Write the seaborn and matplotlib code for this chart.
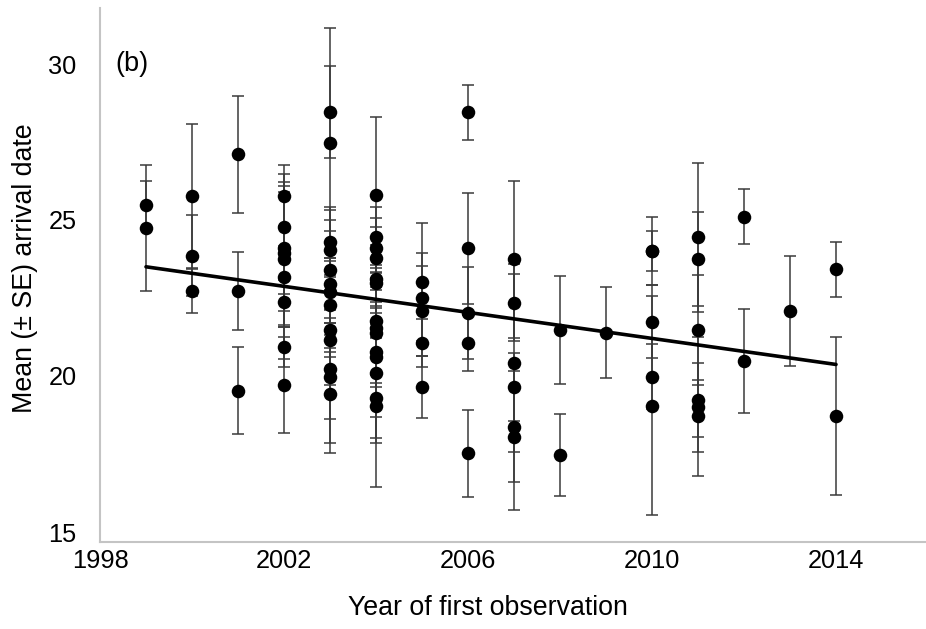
import numpy as np
import pandas as pd
import matplotlib
matplotlib.use("Agg")
import matplotlib.pyplot as plt
import seaborn as sns

# ---- data ----
obs_year = ([1999] * 2 + [2000] * 3 + [2001] * 3 + [2002] * 9 + [2003] * 13 +
            [2004] * 14 + [2005] * 5 + [2006] * 5 + [2007] * 6 + [2008] * 2 +
            [2009] * 1 + [2010] * 5 + [2011] * 6 + [2012] * 2 + [2013] * 1 +
            [2014] * 2)

mean_arrival = [
    25.48, 24.75,
    25.77, 23.86, 22.73,
    27.10, 22.73, 19.53,
    25.78, 24.77, 24.09, 23.93, 23.74, 23.17, 22.36, 20.92, 19.71,
    28.47, 27.46, 24.30, 24.04, 23.40, 22.95, 22.70, 22.28, 21.47, 21.15, 20.24, 19.98, 19.42,
    25.80, 24.45, 24.09, 23.77, 23.10, 22.97, 21.75, 21.55, 21.37, 20.78, 20.62, 20.09, 19.29, 19.05,
    23.00, 22.49, 22.09, 21.05, 19.64,
    28.45, 24.09, 22.01, 21.07, 17.52,
    23.74, 22.35, 20.41, 19.64, 18.38, 18.04,
    21.47, 17.47,
    21.39,
    24.01, 24.01, 21.74, 19.98, 19.05,
    24.45, 23.75, 21.47, 19.23, 19.02, 18.72,
    25.10, 20.49,
    22.08,
    23.42, 18.73,
]

se_arrival = [
    0.77, 2.02,
    2.31, 1.30, 0.70,
    1.87, 1.25, 1.40,
    0.98, 1.70, 2.01, 2.28, 2.17, 0.54, 1.82, 0.64, 1.53,
    1.48, 3.69, 1.13, 1.28, 1.26, 2.06, 1.00, 1.50, 1.76, 0.54, 1.62, 2.12, 1.90,
    2.49, 0.98, 0.96, 1.00, 1.09, 0.60, 0.50, 1.78, 1.73, 2.08, 0.60, 2.09, 1.45, 2.62,
    1.89, 1.46, 1.44, 0.77, 1.00,
    0.89, 1.77, 1.47, 0.90, 1.40,
    2.52, 1.24, 2.86, 1.09, 1.77, 2.33,
    1.73, 1.32,
    1.47,
    1.09, 0.64, 1.17, 1.04, 3.51,
    2.39, 1.52, 1.77, 1.20, 2.23, 1.15,
    0.88, 1.67,
    1.77,
    0.88, 2.53,
]

trend_years = [1999, 2014]
trend_values = [23.50, 20.37]

x_ticks = [1998, 2002, 2006, 2010, 2014]
y_ticks = [15, 20, 25, 30]
panel_label = "(b)"
x_title = "Year of first observation"
y_title = "Mean (± SE) arrival date"

df = pd.DataFrame({"year": obs_year, "mean": mean_arrival, "se": se_arrival})
trend = pd.DataFrame({"year": trend_years, "value": trend_values})

# ---- plot ----
sns.set_theme(style="white")
plt.rcParams["font.family"] = ["Liberation Sans", "DejaVu Sans"]

fig = plt.figure(figsize=(9.26, 6.29), dpi=100)
ax = fig.add_axes([100 / 926, 87 / 629, 826 / 926, 534 / 629])

ax.errorbar(df["year"], df["mean"], yerr=df["se"], fmt="none",
            ecolor="#3a3a3a", elinewidth=1.1, capsize=4.6, capthick=1.1,
            zorder=2)
sns.scatterplot(data=df, x="year", y="mean", ax=ax, color="black", s=95,
                edgecolor="black", linewidth=0, zorder=3, legend=False)
sns.lineplot(data=trend, x="year", y="value", ax=ax, color="black",
             linewidth=2.6, zorder=4)

ax.set_xlim(1998, 1998 + 826 / 46)
ax.set_ylim(15 - 10 / 31.2, 15 + 524 / 31.2)
ax.set_xticks(x_ticks)
ax.set_yticks(y_ticks)
ax.tick_params(axis="both", length=0, labelsize=18.3, colors="black")
ax.tick_params(axis="y", pad=17)
ax.tick_params(axis="x", pad=5)

for side in ["top", "right"]:
    ax.spines[side].set_visible(False)
for side in ["left", "bottom"]:
    ax.spines[side].set_color("#c4c4c4")
    ax.spines[side].set_linewidth(1.5)

ax.set_xlabel(x_title, fontsize=19.3, color="black")
ax.xaxis.label.set_va("center")
ax.xaxis.set_label_coords(0.5 * (629 - 200) / 826 + 0.0, -0.1236)
ax.xaxis.set_label_coords((488 - 100) / 826, -0.1236)

ax.set_ylabel(y_title, fontsize=19.3, color="black")
ax.yaxis.label.set_va("center")
ax.yaxis.label.set_ha("center")
ax.yaxis.set_label_coords((25 - 100) / 826, 0.512)

ax.text(1998.33, 30.0, panel_label, fontsize=19.5, color="black",
        ha="left", va="center")

fig.savefig("out.png", dpi=100)
